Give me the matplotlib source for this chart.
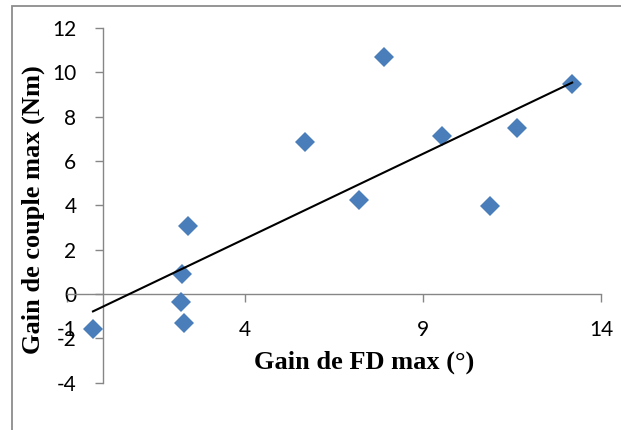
import numpy as np
import matplotlib
matplotlib.use("Agg")
import matplotlib.pyplot as plt
from matplotlib.patches import Rectangle

# Data
gain_fd = [-0.27, 2.41, 2.24, 2.20, 2.29, 7.91, 5.69, 9.54, 7.21, 13.19, 11.65, 10.88]
gain_couple = [-1.60, 3.07, 0.90, -0.35, -1.32, 10.68, 6.86, 7.13, 4.24, 9.46, 7.50, 3.98]
x_ticks = [-1, 4, 9, 14]
y_ticks = [-4, -2, 0, 2, 4, 6, 8, 10, 12]
x_label = "Gain de FD max (°)"
y_label = "Gain de couple max (Nm)"

W, H = 621, 430
fig = plt.figure(figsize=(W / 100, H / 100), dpi=100)

# outer frame
fig.patches.append(Rectangle((12 / W, -0.1), 1.2, 1 - 6 / H + 0.1, transform=fig.transFigure,
                             fill=False, edgecolor="#8c8c8c", linewidth=1.3))

ax = fig.add_axes([67 / W, 1 - 382.7 / H, (601 - 67) / W, (382.7 - 28) / H])
ax.set_xlim(-1, 14)
ax.set_ylim(-4, 12)
ax.patch.set_alpha(0)

axis_col = "#868686"
for s in ["top", "right"]:
    ax.spines[s].set_visible(False)
ax.spines["left"].set_position(("data", 0))
ax.spines["bottom"].set_position(("data", 0))
for s in ["left", "bottom"]:
    ax.spines[s].set_color(axis_col)
    ax.spines[s].set_linewidth(1.0)

ax.set_xticks(x_ticks)
ax.set_yticks(y_ticks)
ax.set_xticklabels([str(v) for v in x_ticks])
ax.set_yticklabels([str(v) for v in y_ticks])
ax.tick_params(axis="both", direction="out", length=5.8, width=1.0, color=axis_col,
               labelsize=15, labelcolor="black")
ax.tick_params(axis="x", pad=13)
ax.tick_params(axis="y", pad=13)
for lab in ax.get_xticklabels() + ax.get_yticklabels():
    lab.set_fontfamily("Lato")

ax.plot(gain_fd, gain_couple, linestyle="none", marker="D", markersize=10.5,
        color="#4a7ebb", markeredgewidth=0, zorder=3)

coef = np.polyfit(gain_fd, gain_couple, 1)
xs = np.array([min(gain_fd), max(gain_fd)])
ax.plot(xs, np.polyval(coef, xs), color="black", linewidth=1.5, zorder=4)

fig.text(364 / W, 1 - 362 / H, x_label, ha="center", va="center",
         fontfamily="Liberation Serif", fontweight="bold", fontsize=19)
fig.text(33 / W, 1 - 210 / H, y_label, ha="center", va="center", rotation=90,
         fontfamily="Liberation Serif", fontweight="bold", fontsize=19)

fig.savefig("out.png", dpi=100)
